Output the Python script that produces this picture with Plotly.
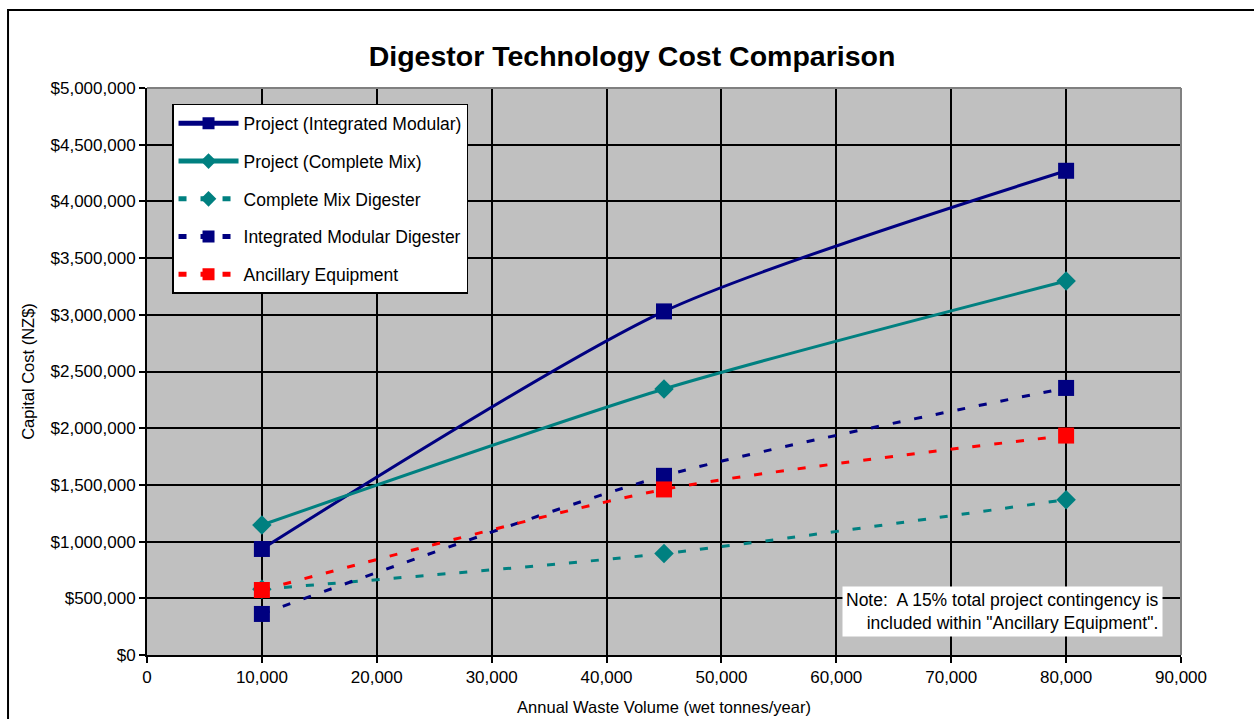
import plotly.graph_objects as go

# Annual waste volume (wet tonnes/year)
volumes = [10000, 45000, 80000]

# Capital cost (NZ$) per scenario
project_integrated_modular = [935000, 3030000, 4270000]
project_complete_mix = [1146000, 2346000, 3298000]
complete_mix_digester = [580000, 895000, 1370000]
integrated_modular_digester = [362000, 1580000, 2355000]
ancillary_equipment = [573000, 1460000, 1935000]

NAVY = "#000080"
TEAL = "#008080"
RED = "#FF0000"
FONT = "Liberation Sans, Arial, sans-serif"
DASH = "8px,14px"

fig = go.Figure()

series = [
    ("Project (Integrated Modular)", project_integrated_modular, NAVY, "square", 16, "solid"),
    ("Project (Complete Mix)", project_complete_mix, TEAL, "diamond", 15, "solid"),
    ("Complete Mix Digester", complete_mix_digester, TEAL, "diamond", 15, DASH),
    ("Integrated Modular Digester", integrated_modular_digester, NAVY, "square", 16, DASH),
    ("Ancillary Equipment", ancillary_equipment, RED, "square", 16, DASH),
]

for i, (name, vals, color, symbol, size, dash) in enumerate(series):
    fig.add_trace(go.Scatter(
        x=volumes, y=vals, name=name, mode="lines+markers",
        line=dict(color=color, width=3, dash=dash, shape="spline", smoothing=0.7),
        marker=dict(color=color, symbol=symbol, size=size, line=dict(width=0)),
        legendgroup=f"g{i}",
    ))

fig.update_layout(
    width=1254, height=719,
    margin=dict(l=147, r=73, t=88, b=64, autoexpand=False),
    paper_bgcolor="white",
    plot_bgcolor="#C0C0C0",
    font=dict(family=FONT, size=17, color="black"),
    title=dict(text="<b>Digestor Technology Cost Comparison</b>",
               font=dict(family=FONT, size=28.5, color="black"),
               x=0.504, xref="container", xanchor="center",
               y=1 - 56 / 719, yref="container", yanchor="middle"),
    showlegend=True,
    legend=dict(
        x=0.0242, y=0.9718, xanchor="left", yanchor="top",
        bgcolor="white", bordercolor="black", borderwidth=1.5,
        font=dict(family=FONT, size=17.5, color="black"),
        itemsizing="constant", itemwidth=60,
        tracegroupgap=12, traceorder="grouped",
    ),
    xaxis=dict(
        range=[0, 90000], dtick=10000, tick0=0,
        tickformat=",d",
        showgrid=True, gridcolor="black", gridwidth=2,
        showline=True, linecolor="black", linewidth=2,
        ticks="outside", tickcolor="black", ticklen=6, tickwidth=1.5,
        zeroline=False, automargin=False,
        tickfont=dict(family=FONT, size=17),
        title=dict(text="Annual Waste Volume (wet tonnes/year)",
                   font=dict(family=FONT, size=16.5), standoff=15),
    ),
    yaxis=dict(
        range=[0, 5000000], dtick=500000, tick0=0,
        tickformat="$,.0f",
        showgrid=True, gridcolor="black", gridwidth=2,
        showline=True, linecolor="black", linewidth=2,
        ticks="outside", tickcolor="black", ticklen=6, tickwidth=1.5,
        zeroline=False, automargin=False,
        tickfont=dict(family=FONT, size=17),
        title=dict(text="Capital Cost (NZ$)",
                   font=dict(family=FONT, size=16.5), standoff=12),
    ),
    shapes=[
        # gray frame on the top/right of the plotting area
        dict(type="line", xref="paper", yref="paper", x0=0, x1=1, y0=1, y1=1,
             line=dict(color="#808080", width=2)),
        dict(type="line", xref="paper", yref="paper", x0=1, x1=1, y0=0, y1=1,
             line=dict(color="#808080", width=2)),
        # outer chart border
        dict(type="rect", xref="paper", yref="paper",
             x0=-0.1344, x1=1.08, y0=-0.13, y1=1.1376,
             line=dict(color="black", width=2), fillcolor="rgba(0,0,0,0)",
             layer="below"),
    ],
    annotations=[
        dict(text="Note:  A 15% total project contingency is<br>included within \"Ancillary Equipment\".",
             xref="paper", yref="paper", x=0.9826, y=0.0317,
             xanchor="right", yanchor="bottom", align="right",
             showarrow=False, bgcolor="white", borderpad=3,
             font=dict(family=FONT, size=17.5, color="black")),
    ],
)

fig.write_html("out.html")
